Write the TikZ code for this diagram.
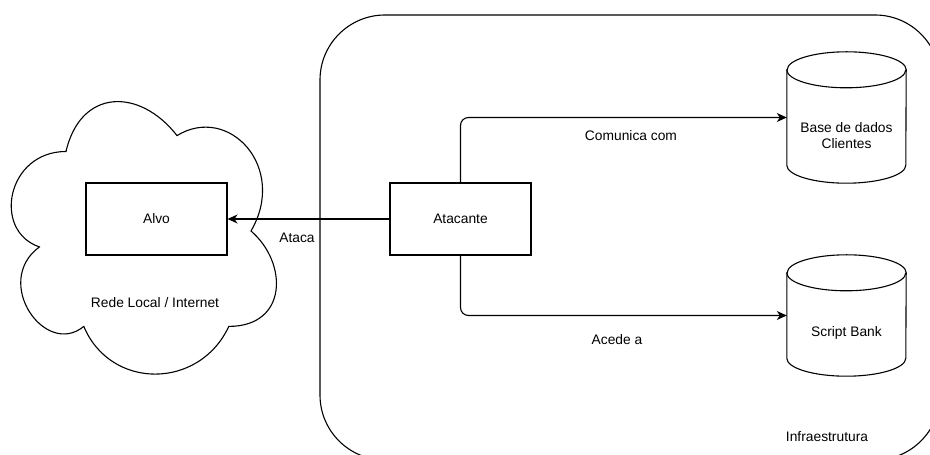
\documentclass[tikz,border=0pt]{standalone}
\usepackage{fontspec}
\setmainfont{Liberation Sans}
\usetikzlibrary{arrows.meta}
\begin{document}
\begin{tikzpicture}[x=1pt,y=1pt,
  lw/.style={line width=1.1pt},
  box/.style={draw, lw, minimum width=141pt, minimum height=72pt, inner sep=0pt},
  dbbox/.style={minimum width=119pt, inner sep=0pt},
  lbl/.style={align=center, inner sep=0pt},
  conn/.style={lw, -{Stealth[length=10pt,width=9pt,inset=3pt]}, rounded corners=8pt},
  every node/.style={font=\fontsize{13.8}{16.8}\selectfont}
]
\useasboundingbox (0,0) rectangle (930,455);
\clip (0,0) rectangle (930,455);
% infrastructure container
\draw[lw, rounded corners=65pt] (320,-5) rectangle (940,440);
% cloud
\draw[lw] (66,303.5) .. controls (6.8,303.5) and (-8,224) .. (39.4,208.1)
  .. controls (-8,173.1) and (45.3,96.8) .. (83.8,128.6)
  .. controls (110.4,65) and (199.2,65) .. (228.8,128.6)
  .. controls (288,128.6) and (288,192.2) .. (251,224)
  .. controls (288,287.6) and (228.8,351.2) .. (177,319.4)
  .. controls (140,367.1) and (80.8,367.1) .. (66,303.5) -- cycle;
% boxes
\node[box] (alvo) at (156.5,236) {Alvo};
\node[box] (ata) at (460.5,236) {Atacante};
% cylinders
\node[dbbox, minimum height=131pt] (bd) at (846.5,337.5) {};
\node[dbbox, minimum height=121pt] (sb) at (846.5,139.5) {};
\foreach \n in {bd,sb}{
  \draw[lw] ([yshift=-18pt]\n.north west) -- ([yshift=18pt]\n.south west)
    arc (180:360:59.5 and 18) -- ([yshift=-18pt]\n.north east)
    arc (0:180:59.5 and 18) -- cycle;
  \draw[lw] ([yshift=-18pt]\n.north west) arc (180:360:59.5 and 18);
}
\node[lbl] (bdt) at (846.5,319.5) {Base de dados\\Clientes};
\node[lbl] (sbt) at (846.5,122) {Script Bank};
% connectors
\draw[conn] (ata.west) -- (alvo.east);
\draw[conn] (ata.north) |- (bd.west);
\draw[conn] (ata.south) |- (sb.west);
% labels
\node[lbl] (l1) at (297,217) {Ataca};
\node[lbl] (l2) at (631,319) {Comunica com};
\node[lbl] (l3) at (617,115) {Acede a};
\node[lbl] (l4) at (155,152) {Rede Local / Internet};
\node[lbl] (l5) at (827,18) {Infraestrutura};
\end{tikzpicture}
\end{document}
